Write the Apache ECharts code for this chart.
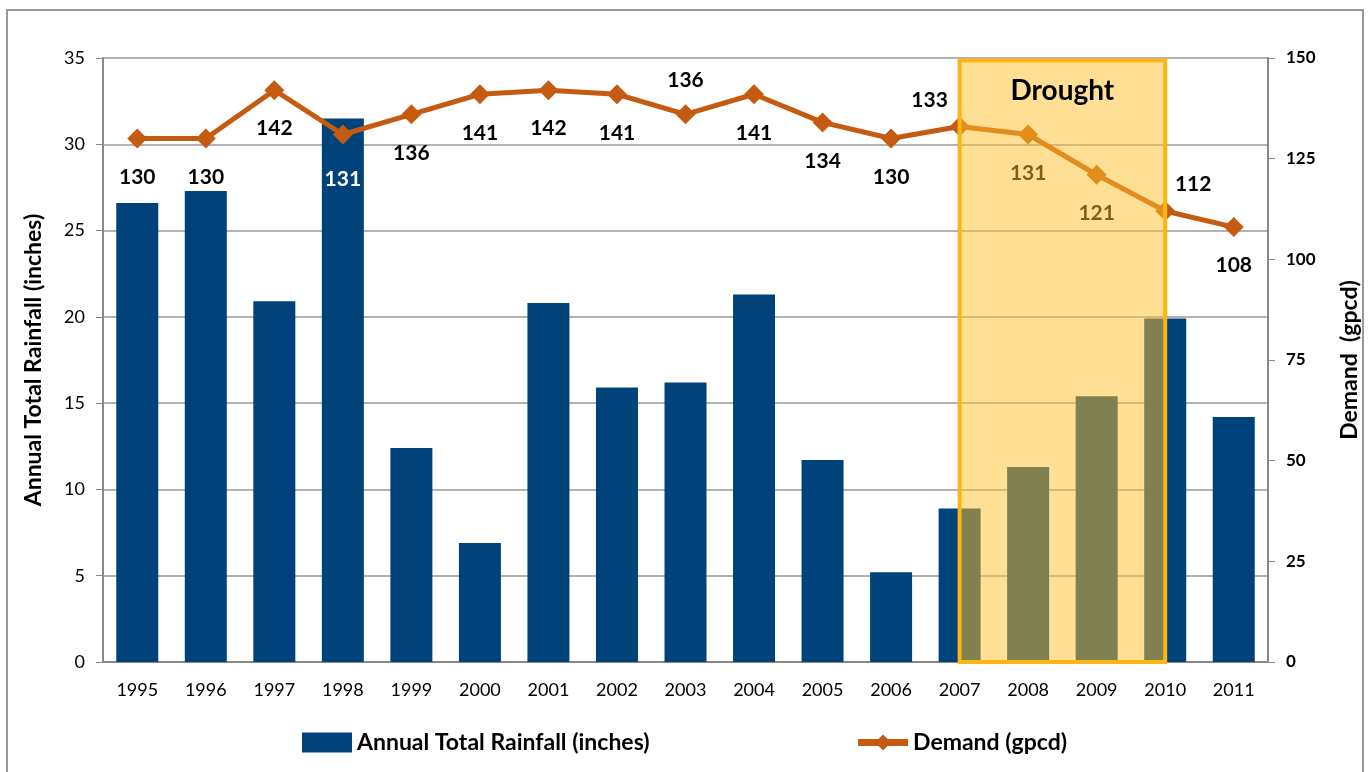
<!DOCTYPE html>
<html>
<head>
<meta charset="utf-8">
<script src="https://cdn.jsdelivr.net/npm/echarts@6/dist/echarts.min.js"></script>
<style>
    html, body { margin: 0; padding: 0; background: #fff; }
    #frame {
        position: absolute; left: 6px; top: 9px; width: 1358px; height: 780px;
        border: 2px solid #999; box-sizing: border-box;
    }
    #chart { position: absolute; left: 0; top: 0; width: 1369px; height: 772px; }
</style>
</head>
<body>
<div id="frame"></div>
<div id="chart"></div>
<script>
const years = ['1995', '1996', '1997', '1998', '1999', '2000', '2001', '2002', '2003',
    '2004', '2005', '2006', '2007', '2008', '2009', '2010', '2011']
const rainfall = [26.6, 27.3, 20.9, 31.5, 12.4, 6.9, 20.8, 15.9, 16.2, 21.3, 11.7, 5.2, 8.9, 11.3, 15.4, 19.9, 14.2]
const demand = [130, 130, 142, 131, 136, 141, 142, 141, 136, 141, 134, 130, 133, 131, 121, 112, 108]
const droughtFrom = '2007'
const droughtTo = '2010'

const font = 'Lato, "Open Sans", sans-serif'
const navy = '#00427a'
const orange = '#c55a11'

// label tweaks per year (the rest sit under the point)
const labelTweaks = {
    '1998': { color: '#fff', distance: 24 },
    '2003': { position: 'top', distance: 14 },
    '2007': { position: 'top', distance: 6, offset: [-30, 0] },
    '2010': { position: 'top', distance: 6, offset: [28, 0] },
}

const demandData = demand.map((v, i) => {
    const item = { value: v }
    if (labelTweaks[years[i]]) item.label = labelTweaks[years[i]]
    return item
})

const chart = echarts.init(document.getElementById('chart'))
chart.setOption({
    animation: false,
    textStyle: { fontFamily: font },
    grid: { left: 103, right: 95, top: 58, bottom: 110 },
    legend: {
        left: 297,
        top: 726,
        itemGap: 205,
        itemWidth: 50,
        itemHeight: 20,
        textStyle: { fontFamily: font, fontSize: 23, fontWeight: 'bold', color: '#000' },
        data: [
            { name: 'Annual Total Rainfall (inches)', icon: 'rect' },
            { name: 'Demand (gpcd)', lineStyle: { width: 7 } },
        ],
    },
    xAxis: {
        type: 'category',
        data: years,
        axisLine: { lineStyle: { color: '#888', width: 2 } },
        axisTick: { show: false },
        axisLabel: { color: '#000', fontSize: 18, margin: 19, fontFamily: font },
    },
    yAxis: [
        {
            type: 'value',
            min: 0,
            max: 35,
            interval: 5,
            name: 'Annual Total Rainfall (inches)',
            nameLocation: 'middle',
            nameGap: 58,
            nameTextStyle: { fontSize: 23, fontWeight: 'bold', color: '#000', fontFamily: font },
            axisLine: { show: true, lineStyle: { color: '#888', width: 2 } },
            axisTick: { show: true, length: 7, lineStyle: { color: '#888' } },
            axisLabel: { color: '#000', fontSize: 18, margin: 18, fontFamily: font },
            splitLine: { lineStyle: { color: '#999', width: 1.5 } },
        },
        {
            type: 'value',
            min: 0,
            max: 150,
            interval: 25,
            name: 'Demand  (gpcd)',
            nameLocation: 'middle',
            nameGap: 70,
            nameRotate: 90,
            nameTextStyle: { fontSize: 23, fontWeight: 'bold', color: '#000', fontFamily: font },
            axisLine: { show: true, lineStyle: { color: '#888', width: 2 } },
            axisTick: { show: true, length: 7, lineStyle: { color: '#888' } },
            axisLabel: { color: '#000', fontSize: 17, fontWeight: 'bold', margin: 18, fontFamily: font },
            splitLine: { show: false },
        },
    ],
    series: [
        {
            name: 'Annual Total Rainfall (inches)',
            type: 'bar',
            yAxisIndex: 0,
            barWidth: 42,
            itemStyle: { color: navy },
            data: rainfall,
        },
        {
            name: 'Demand (gpcd)',
            type: 'line',
            yAxisIndex: 1,
            symbol: 'diamond',
            symbolSize: 20,
            lineStyle: { color: orange, width: 5 },
            itemStyle: { color: orange },
            label: {
                show: true,
                position: 'bottom',
                distance: 18,
                color: '#000',
                fontSize: 21,
                fontWeight: 'bold',
                fontFamily: font,
            },
            data: demandData,
        },
        {
            name: 'drought',
            type: 'line',
            yAxisIndex: 0,
            z: 10,
            data: [],
            markArea: {
                z: 10,
                silent: true,
                itemStyle: {
                    color: 'rgba(255, 192, 40, 0.5)',
                    borderColor: '#fbb614',
                    borderWidth: 4,
                },
                label: {
                    show: true,
                    position: 'insideTop',
                    distance: 18,
                    color: '#000',
                    fontSize: 28,
                    fontWeight: 'bold',
                    fontFamily: font,
                },
                data: [[
                    { name: 'Drought', xAxis: droughtFrom, yAxis: 0 },
                    { xAxis: droughtTo, yAxis: 34.85 },
                ]],
            },
        },
    ],
})
</script>
</body>
</html>
